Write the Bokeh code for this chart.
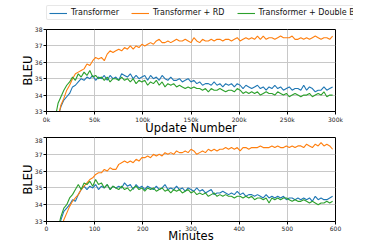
from bokeh.plotting import figure
from bokeh.layouts import column
from bokeh.models import Legend, LegendItem, Range1d, FixedTicker
from bokeh.embed import file_html
from bokeh.resources import INLINE

# ---------------- data ----------------
updates_k = list(range(9, 298, 3))  # thousand updates
minutes = list(range(18, 595, 6))

top_transformer = [
    32.2, 32.7, 33.3, 33.7, 33.9, 34.1, 34.5, 34.6, 34.8, 35.0,
    34.9, 35.1, 35.0, 35.2, 34.9, 35.1, 35.0, 35.2, 34.9, 35.2,
    35.0, 35.1, 34.9, 35.3, 35.2, 35.1, 35.3, 35.0, 35.2, 35.0,
    35.1, 35.2, 34.9, 35.2, 35.0, 35.1, 34.9, 35.2, 35.0, 34.9,
    35.1, 34.9, 34.9, 35.0, 34.8, 34.9, 35.0, 34.8, 34.9, 34.7,
    34.8, 34.6, 34.7, 34.7, 34.6, 34.8, 34.6, 34.7, 34.5, 34.7,
    34.6, 34.7, 34.5, 34.7, 34.6, 34.4, 34.6, 34.5, 34.4, 34.5,
    34.6, 34.4, 34.5, 34.3, 34.5, 34.4, 34.6, 34.4, 34.5, 34.3,
    34.4, 34.5, 34.3, 34.4, 34.4, 34.3, 34.6, 34.3, 34.5, 34.4,
    34.2, 34.3, 34.3, 34.5, 34.3, 34.4, 34.5]
top_rd = [
    32.0, 32.6, 33.4, 33.8, 34.3, 34.6, 35.0, 35.3, 35.4, 35.5,
    35.6, 35.9, 35.8, 36.1, 36.3, 36.2, 36.3, 36.1, 36.5, 36.7,
    36.6, 36.7, 36.8, 36.7, 36.9, 36.8, 37.0, 36.8, 37.0, 36.9,
    37.1, 37.0, 37.1, 37.2, 37.1, 37.3, 37.4, 37.2, 37.2, 37.3,
    37.2, 37.3, 37.4, 37.3, 37.3, 37.4, 37.3, 37.2, 37.5, 37.3,
    37.2, 37.4, 37.3, 37.3, 37.4, 37.3, 37.4, 37.4, 37.3, 37.4,
    37.4, 37.3, 37.4, 37.5, 37.3, 37.4, 37.5, 37.4, 37.5, 37.4,
    37.6, 37.4, 37.6, 37.4, 37.5, 37.5, 37.4, 37.5, 37.6, 37.5,
    37.5, 37.5, 37.6, 37.4, 37.4, 37.5, 37.4, 37.5, 37.4, 37.5,
    37.6, 37.5, 37.4, 37.5, 37.5, 37.4, 37.6]
top_double = [
    32.6, 33.5, 33.9, 34.3, 34.6, 34.8, 35.1, 34.9, 35.3, 35.1,
    35.4, 35.2, 35.5, 35.1, 35.2, 35.0, 35.1, 34.9, 35.1, 34.8,
    35.0, 35.0, 34.9, 35.1, 34.9, 35.0, 34.8, 35.0, 34.7, 34.9,
    34.8, 34.9, 34.6, 34.8, 34.7, 34.9, 34.6, 34.8, 34.5, 34.7,
    34.6, 34.7, 34.5, 34.6, 34.5, 34.4, 34.5, 34.4, 34.5, 34.4,
    34.4, 34.3, 34.4, 34.2, 34.4, 34.3, 34.3, 34.4, 34.3, 34.2,
    34.3, 34.3, 34.2, 34.4, 34.3, 34.1, 34.2, 34.1, 34.2, 34.1,
    34.2, 34.0, 34.1, 34.2, 34.1, 34.1, 34.0, 34.2, 34.1, 34.0,
    34.1, 33.9, 34.0, 34.1, 34.0, 33.9, 34.0, 34.0, 34.1, 33.9,
    34.0, 34.1, 34.0, 34.2, 33.9, 34.0, 34.0]

bot_transformer = [
    32.2, 32.6, 33.1, 33.6, 33.8, 34.0, 34.3, 34.2, 34.6, 34.9,
    35.1, 34.9, 35.1, 35.0, 35.2, 34.9, 35.1, 35.0, 35.2, 34.9,
    35.1, 35.0, 35.1, 35.0, 35.3, 35.1, 35.2, 34.9, 35.2, 35.0,
    35.1, 34.9, 35.1, 35.0, 34.9, 35.1, 34.9, 35.0, 35.2, 34.9,
    35.0, 34.9, 35.1, 34.9, 35.0, 34.8, 35.0, 34.9, 34.8, 35.0,
    34.8, 34.9, 34.7, 34.8, 34.9, 34.6, 34.7, 34.7, 34.8, 34.7,
    34.6, 34.7, 34.6, 34.8, 34.6, 34.7, 34.5, 34.6, 34.6, 34.5,
    34.6, 34.5, 34.4, 34.6, 34.4, 34.5, 34.4, 34.5, 34.4, 34.5,
    34.3, 34.4, 34.4, 34.3, 34.4, 34.3, 34.4, 34.3, 34.4, 34.2,
    34.5, 34.3, 34.4, 34.3, 34.3, 34.4, 34.5]
bot_rd = [
    31.5, 32.0, 32.6, 33.1, 33.5, 33.9, 34.2, 34.4, 34.6, 34.9,
    35.1, 35.3, 35.5, 35.6, 35.8, 35.9, 35.9, 36.1, 36.0, 36.2,
    36.1, 36.1, 36.4, 36.5, 36.6, 36.5, 36.6, 36.5, 36.7, 36.6,
    36.8, 36.8, 36.9, 36.8, 37.0, 36.9, 37.0, 36.9, 37.1, 37.0,
    37.1, 37.0, 37.2, 37.1, 37.1, 37.2, 37.1, 37.3, 37.2, 37.0,
    37.1, 37.2, 37.1, 37.3, 37.2, 37.3, 37.2, 37.3, 37.3, 37.4,
    37.3, 37.4, 37.3, 37.4, 37.2, 37.4, 37.4, 37.3, 37.4, 37.4,
    37.4, 37.5, 37.4, 37.4, 37.4, 37.5, 37.4, 37.5, 37.4, 37.4,
    37.5, 37.4, 37.5, 37.4, 37.5, 37.5, 37.4, 37.6, 37.5, 37.4,
    37.6, 37.5, 37.7, 37.5, 37.6, 37.5, 37.3]
bot_double = [
    32.0, 32.6, 33.3, 33.8, 34.0, 34.4, 34.6, 34.9, 35.2, 34.9,
    35.3, 35.2, 35.4, 35.1, 35.5, 35.2, 35.3, 35.0, 35.2, 34.9,
    35.1, 35.0, 34.9, 35.1, 34.9, 35.0, 34.8, 35.0, 35.1, 34.9,
    35.0, 34.8, 35.0, 34.9, 35.0, 34.8, 34.9, 35.0, 34.8, 34.9,
    34.7, 34.9, 34.8, 34.9, 34.7, 34.8, 34.9, 34.7, 34.8, 34.6,
    34.7, 34.6, 34.7, 34.5, 34.6, 34.7, 34.5, 34.6, 34.5, 34.6,
    34.5, 34.5, 34.4, 34.5, 34.5, 34.4, 34.5, 34.4, 34.5, 34.3,
    34.4, 34.4, 34.3, 34.4, 34.1, 34.4, 34.3, 34.4, 34.3, 34.4,
    34.4, 34.3, 34.2, 34.3, 34.2, 34.2, 34.3, 34.2, 34.1, 34.2,
    34.1, 34.0, 34.1, 34.1, 34.2, 34.1, 34.2]

series_names = ["Transformer", "Transformer + RD", "Transformer + Double Batch"]
colors = ["#1f77b4", "#ff7f0e", "#2ca02c"]
y_ticks = [33, 34, 35, 36, 37, 38]
top_x_ticks = [0, 50, 100, 150, 200, 250, 300]
top_x_labels = ["0k", "50k", "100k", "150k", "200k", "250k", "300k"]
bot_x_ticks = [0, 100, 200, 300, 400, 500, 600]

FONT = "DejaVu Sans"


def style(p, xticks, xlabel):
    p.yaxis.ticker = FixedTicker(ticks=y_ticks)
    p.xaxis.ticker = FixedTicker(ticks=xticks)
    p.outline_line_color = "black"
    p.outline_line_width = 1
    p.background_fill_color = "white"
    p.border_fill_color = "white"
    for ax in (p.xaxis[0], p.yaxis[0]):
        ax.major_label_text_font = FONT
        ax.major_label_text_font_size = "6px"
        ax.major_label_text_color = "#222222"
        ax.axis_label_text_font = FONT
        ax.axis_label_text_font_style = "normal"
        ax.axis_label_text_font_size = "11.5px"
        ax.axis_label_text_color = "black"
        ax.major_tick_out = 3
        ax.major_tick_in = 0
        ax.minor_tick_out = 0
        ax.minor_tick_in = 0
        ax.axis_line_color = "black"
        ax.major_label_standoff = 1
    p.xaxis.axis_label_standoff = -5
    p.yaxis.axis_label_standoff = -3
    p.xaxis.axis_label = xlabel
    p.yaxis.axis_label = "BLEU"
    p.xgrid.grid_line_color = "#c8c8c8"
    p.ygrid.grid_line_color = "#c8c8c8"


# ---------------- legend strip (no axes) ----------------
p0 = figure(width=366, height=21, output_backend="svg", toolbar_location=None,
            x_range=Range1d(0, 1), y_range=Range1d(0, 1),
            x_axis_location=None, y_axis_location=None,
            min_border_left=0, min_border_right=0,
            min_border_top=0, min_border_bottom=0)
p0.grid.visible = False
p0.outline_line_color = None
# series drawn far outside this strip's ranges: they only feed the legend
legend_renderers = [p0.line(updates_k, ys, line_color=c, line_width=1.1)
                    for ys, c in zip([top_transformer, top_rd, top_double], colors)]
legend = Legend(items=[LegendItem(label=n, renderers=[r]) for n, r in zip(series_names, legend_renderers)],
                orientation="horizontal", location=(0, 1))
legend.label_text_font = FONT
legend.label_text_font_size = "8px"
legend.label_text_color = "#111111"
legend.glyph_width = 18
legend.glyph_height = 8
legend.label_height = 8
legend.label_standoff = 4
legend.spacing = 12
legend.padding = 2
legend.margin = 0
legend.border_line_color = "#d0d0d0"
legend.border_line_width = 1
legend.border_radius = 2
legend.background_fill_alpha = 1
p0.add_layout(legend, "center")

# ---------------- top figure ----------------
p1 = figure(width=348, height=116, output_backend="svg", toolbar_location=None,
            x_range=Range1d(0, 300), y_range=Range1d(33, 38),
            min_border_left=46, min_border_right=13,
            min_border_top=8, min_border_bottom=0)
style(p1, top_x_ticks, "Update Number")
p1.xaxis.major_label_overrides = {t: l for t, l in zip(top_x_ticks, top_x_labels)}
for ys, c in zip([top_transformer, top_rd, top_double], colors):
    p1.line(updates_k, ys, line_color=c, line_width=1.1)

# ---------------- bottom figure ----------------
p2 = figure(width=348, height=108, output_backend="svg", toolbar_location=None,
            x_range=Range1d(0, 600), y_range=Range1d(33, 38),
            min_border_left=46, min_border_right=13,
            min_border_top=0, min_border_bottom=0)
style(p2, bot_x_ticks, "Minutes")
for ys, c in zip([bot_transformer, bot_rd, bot_double], colors):
    p2.line(minutes, ys, line_color=c, line_width=1.1)

layout = column(p0, p1, p2, spacing=0)
open("out.html", "w").write(file_html(layout, INLINE))
